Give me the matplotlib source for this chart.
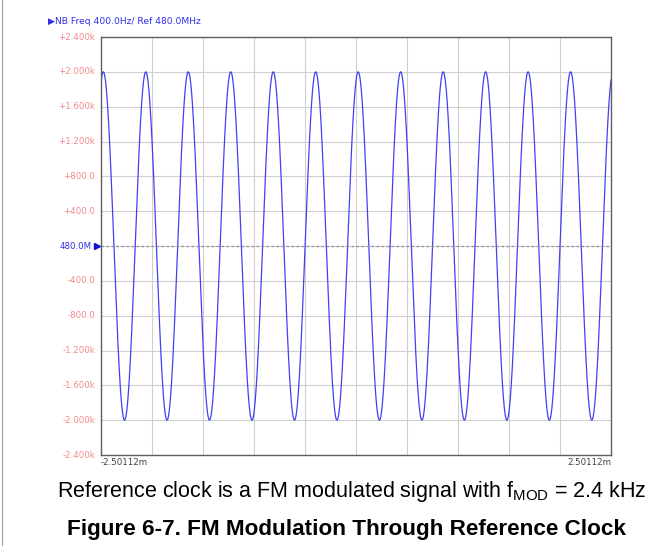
import numpy as np
import matplotlib.pyplot as plt

# scope capture settings
t_start = -2.50112e-3
t_stop = 2.50112e-3
f_mod = 2400.0          # Hz, from caption
deviation = 2000.0      # Hz, peak freq deviation
t_first_peak = -2.4785e-3

y_ticks = [2400, 2000, 1600, 1200, 800, 400, 0, -400, -800, -1200, -1600, -2000, -2400]
y_labels = ["+2.400k", "+2.000k", "+1.600k", "+1.200k", "+800.0", "+400.0", "480.0M",
            "-400.0", "-800.0", "-1.200k", "-1.600k", "-2.000k", "-2.400k"]
x_labels = ["-2.50112m", "2.50112m"]
n_xdiv = 10

t = np.linspace(t_start, t_stop, 3000)
freq = deviation * np.cos(2 * np.pi * f_mod * (t - t_first_peak))

fig = plt.figure(figsize=(6.64, 5.46), dpi=100)
ax = fig.add_axes([101/664, 1-455/546, 510/664, 418/546])

ax.plot(t, freq, color="#4040f5", lw=0.9)
ax.axhline(0, color="#909090", lw=0.9, ls=(0, (2, 2)))

ax.set_xlim(t_start, t_stop)
ax.set_ylim(-2400, 2400)
ax.set_xticks(np.linspace(t_start, t_stop, n_xdiv + 1))
ax.set_yticks(y_ticks)
ax.grid(True, color="#cfcfcf", lw=0.8)
ax.tick_params(length=0, labelbottom=False, labelleft=False)
for s in ax.spines.values():
    s.set_color("#606060")
    s.set_linewidth(1.0)

# y labels drawn by hand so the ref line can be blue
for v, lab in zip(y_ticks, y_labels):
    col = "#3030e8" if v == 0 else "#f28a8a"
    ax.text(-0.012 if v != 0 else -0.018, v, lab, transform=ax.get_yaxis_transform(),
            ha="right", va="center", fontsize=6.2, color=col)
ax.plot([-0.008], [0], marker=">", color="#1010d0", ms=4,
        transform=ax.get_yaxis_transform(), clip_on=False)

ax.text(0.0, -0.008, x_labels[0], transform=ax.transAxes, ha="left", va="top",
        fontsize=6.2, color="#404040")
ax.text(1.0, -0.008, x_labels[1], transform=ax.transAxes, ha="right", va="top",
        fontsize=6.2, color="#404040")

fig.text(48/664, 1-21/546, "\u25b6NB Freq 400.0Hz/ Ref 480.0MHz", fontsize=6.6,
         color="#3030e8", ha="left", va="center")

fig.text(352/664, 1-492/546, r"Reference clock is a FM modulated signal with f$_{\mathregular{MOD}}$ = 2.4 kHz",
         fontsize=15.5, family="Liberation Sans", ha="center", va="center")
fig.text(347/664, 1-530/546, "Figure 6-7. FM Modulation Through Reference Clock",
         fontsize=16.2, family="Liberation Sans", weight="bold", ha="center", va="center")

# thin page edge on the left
fig.add_artist(plt.Line2D([1.5/664, 1.5/664], [0, 1], color="#a0a0a0", lw=0.8))

fig.savefig("out.png", dpi=100)
